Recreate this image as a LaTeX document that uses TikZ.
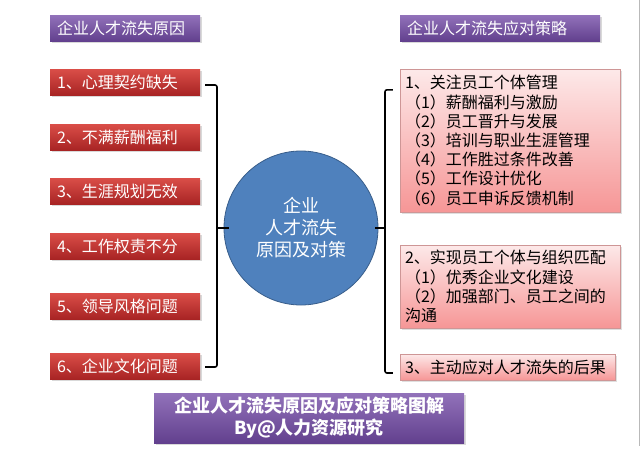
\documentclass[tikz,border=0pt]{standalone}
\usepackage{fontspec}
\setmainfont{Noto Sans CJK SC}
\usetikzlibrary{positioning}
\usetikzlibrary{shadows}
\definecolor{redtop}{RGB}{218,78,72}
\definecolor{redbot}{RGB}{168,36,36}
\definecolor{purtop}{RGB}{146,114,186}
\definecolor{purbot}{RGB}{98,64,142}
\definecolor{pinktop}{RGB}{253,233,233}
\definecolor{pinkbot}{RGB}{246,150,150}
\definecolor{pinkline}{RGB}{206,150,150}
\definecolor{circfill}{RGB}{79,129,189}
\definecolor{circline}{RGB}{56,93,138}

\begin{document}
\begin{tikzpicture}[x=1pt, y=-1pt,
		hd/.style = {rectangle, top color=purtop, bottom color=purbot, text=white, minimum height=26, inner xsep=7, align=left, font=\fontsize{16}{19}\selectfont, drop shadow={shadow xshift=1.5pt, shadow yshift=-1.5pt, opacity=0.3}},
		rs/.style = {rectangle, top color=redtop, bottom color=redbot, text=white, minimum height=26, text width=136, inner xsep=7, align=left, font=\fontsize{16}{19}\selectfont, drop shadow={shadow xshift=1.5pt, shadow yshift=-1.5pt, opacity=0.3}},
		st/.style = {rectangle, draw=pinkline, top color=pinktop, bottom color=pinkbot, inner xsep=5, align=left, font=\fontsize{16}{19.2}\selectfont, drop shadow={shadow xshift=1.5pt, shadow yshift=-1.5pt, opacity=0.25}},
		cc/.style = {circle, draw=circline, fill=circfill, thick, text=white, minimum size=154, align=center, font=\fontsize{18}{22}\selectfont},
		br/.style = {line width=1.6pt, rounded corners=2pt}
		]
		\useasboundingbox (0,0) rectangle (640,456);
		
		%Nodes
		\node[hd, text width=136]	(hl)	at	(125, 28)	{企业人才流失原因};
		\node[hd, text width=186]	(hr)	at	(500, 28)	{企业人才流失应对策略};
		\node[rs]	(rs1)	at	(125, 82)	{1、心理契约缺失};
		\node[rs]	(rs2)	at	(125, 137)	{2、不满薪酬福利};
		\node[rs]	(rs3)	at	(125, 191)	{3、生涯规划无效};
		\node[rs]	(rs4)	at	(125, 246)	{4、工作权责不分};
		\node[rs]	(rs5)	at	(125, 306)	{5、领导风格问题};
		\node[rs]	(rs6)	at	(125, 366)	{6、企业文化问题};
		\node[cc]	(circ)	at	(301, 228)	{企业\\人才流失\\原因及对策};
		\node[st, text width=210, minimum height=143]	(st1)	at	(510, 140.5)	{1、关注员工个体管理\\（1）薪酬福利与激励\\（2）员工晋升与发展\\（3）培训与职业生涯管理\\（4）工作胜过条件改善\\（5）工作设计优化\\（6）员工申诉反馈机制};
		\node[st, text width=210, minimum height=83]	(st2)	at	(510, 286.5)	{2、实现员工个体与组织匹配\\（1）优秀企业文化建设\\（2）加强部门、员工之间的\\沟通};
		\node[st, text width=205, minimum height=26]	(st3)	at	(507.5, 367)	{3、主动应对人才流失的后果};
		\node[hd, minimum width=310, minimum height=50, align=center, font=\fontsize{18}{22}\selectfont\bfseries]	(ft)	at	(309, 418)	{企业人才流失原因及应对策略图解\\By@人力资源研究};
		\coordinate	(lb)	at	(217, 228);
		\coordinate	(rb)	at	(385, 228);
		
		%Lines
		\draw[br]	([shift={(5,3)}]rs1.east)	-|	(lb)	|-	([shift={(5,1)}]rs6.east);
		\draw[br]	(lb)	--	([xshift=5]circ.west);
		\draw[br]	([shift={(-7,21)}]st1.north west)	-|	(rb)	|-	([shift={(-7,6)}]st3.west);
		\draw[br]	([xshift=-3]circ.east)	--	(rb);
		\draw[gray!55, line width=0.8pt]	(639.4, 0)	--	(639.4, 446);
	\end{tikzpicture}
\end{document}
